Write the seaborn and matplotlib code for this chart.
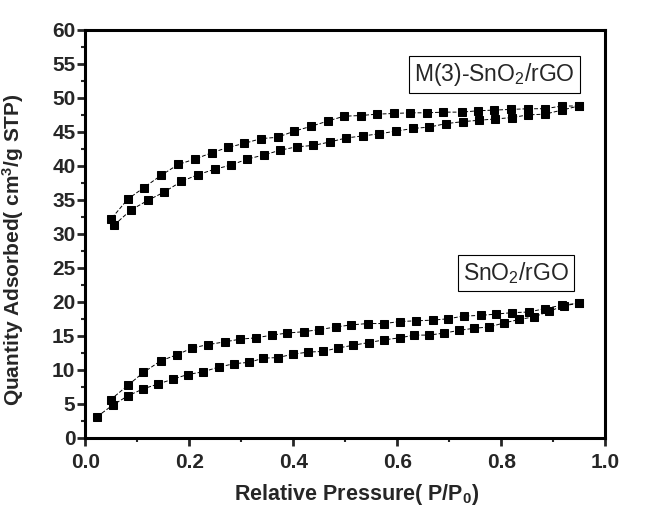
import matplotlib
matplotlib.use("Agg")
import matplotlib.pyplot as plt
import seaborn as sns
import pandas as pd
from matplotlib.ticker import MultipleLocator

# M(3)-SnO2/rGO adsorption branch
m3_ads_x = [0.056, 0.088, 0.120, 0.151, 0.185, 0.217, 0.249, 0.280, 0.312, 0.344,
            0.375, 0.407, 0.439, 0.470, 0.502, 0.534, 0.565, 0.597, 0.631, 0.662,
            0.693, 0.726, 0.757, 0.789, 0.821, 0.852, 0.884, 0.917, 0.949]
m3_ads_y = [31.3, 33.5, 34.9, 36.1, 37.7, 38.7, 39.5, 40.1, 41.0, 41.6,
            42.3, 42.8, 43.0, 43.5, 44.1, 44.4, 44.7, 45.1, 45.5, 45.7,
            46.2, 46.5, 46.7, 46.9, 47.1, 47.5, 47.6, 48.2, 48.8]
# M(3)-SnO2/rGO desorption branch
m3_des_x = [0.949, 0.917, 0.884, 0.852, 0.819, 0.787, 0.755, 0.724, 0.689, 0.658,
            0.625, 0.593, 0.561, 0.530, 0.498, 0.467, 0.434, 0.402, 0.370, 0.338,
            0.306, 0.274, 0.243, 0.211, 0.179, 0.146, 0.113, 0.082, 0.050]
m3_des_y = [48.8, 48.8, 48.4, 48.4, 48.3, 48.2, 48.1, 47.9, 47.9, 47.8,
            47.8, 47.7, 47.6, 47.4, 47.3, 46.6, 45.8, 45.1, 44.2, 44.0,
            43.3, 42.7, 41.9, 41.0, 40.2, 38.6, 36.8, 35.1, 32.2]
# SnO2/rGO adsorption branch
sn_ads_x = [0.023, 0.053, 0.083, 0.112, 0.140, 0.168, 0.197, 0.227, 0.257, 0.287,
            0.316, 0.342, 0.371, 0.400, 0.429, 0.457, 0.486, 0.515, 0.545, 0.575,
            0.605, 0.633, 0.661, 0.691, 0.719, 0.748, 0.777, 0.806, 0.835, 0.864,
            0.892, 0.920, 0.950]
sn_ads_y = [3.1, 4.8, 6.2, 7.2, 7.9, 8.6, 9.3, 9.7, 10.4, 10.9,
            11.1, 11.7, 11.8, 12.3, 12.6, 12.7, 13.2, 13.6, 14.0, 14.4,
            14.7, 15.1, 15.1, 15.4, 15.8, 16.1, 16.3, 16.9, 17.4, 17.8,
            18.6, 19.4, 19.8]
# SnO2/rGO desorption branch
sn_des_x = [0.950, 0.917, 0.884, 0.854, 0.821, 0.791, 0.761, 0.728, 0.698, 0.668,
            0.636, 0.606, 0.575, 0.543, 0.512, 0.482, 0.450, 0.420, 0.389, 0.359,
            0.329, 0.298, 0.268, 0.236, 0.206, 0.176, 0.145, 0.112, 0.082, 0.049]
sn_des_y = [19.8, 19.5, 19.0, 18.5, 18.4, 18.2, 18.0, 17.9, 17.5, 17.3,
            17.2, 17.1, 16.8, 16.8, 16.6, 16.3, 15.9, 15.6, 15.4, 15.1,
            14.7, 14.5, 14.1, 13.7, 13.2, 12.2, 11.3, 9.6, 7.7, 5.6]

x_ticks = [0.0, 0.2, 0.4, 0.6, 0.8, 1.0]
y_ticks = list(range(0, 61, 5))
label_m3 = "M(3)-SnO$_2$/rGO"
label_sn = "SnO$_2$/rGO"

sns.set_style("ticks")
plt.rcParams['font.family'] = ['Liberation Sans', 'DejaVu Sans']
plt.rcParams['mathtext.default'] = 'regular'

fig = plt.figure(figsize=(6.5, 5.15), dpi=100)
ax = fig.add_axes([0.131, 0.150, 0.800, 0.792])

series = [(m3_ads_x, m3_ads_y), (m3_des_x, m3_des_y),
          (sn_ads_x, sn_ads_y), (sn_des_x, sn_des_y)]
for xs, ys in series:
    df = pd.DataFrame({"x": xs, "y": ys})
    sns.lineplot(data=df, x="x", y="y", sort=False, ax=ax, color="black",
                 linestyle=(0, (4, 2)), linewidth=0.7, marker="s",
                 markersize=6.3, markeredgecolor="black", markerfacecolor="black")

ax.set_xlim(0, 1.0)
ax.set_ylim(0, 60)
ax.set_xticks(x_ticks)
ax.set_yticks(y_ticks)
ax.xaxis.set_minor_locator(MultipleLocator(0.1))
ax.yaxis.set_minor_locator(MultipleLocator(2.5))
ax.set_xticklabels([f"{v:.1f}" for v in x_ticks], fontsize=15, fontweight="bold")
ax.set_yticklabels([str(v) for v in y_ticks], fontsize=15, fontweight="bold")
ax.tick_params(axis="x", which="major", direction="out", length=6, width=2, pad=5)
ax.tick_params(axis="y", which="major", direction="out", length=6, width=2, pad=1)
ax.tick_params(axis="both", which="minor", direction="out", length=3, width=1.5)
for sp in ax.spines.values():
    sp.set_linewidth(2.2)
    sp.set_color("black")

ax.set_xlabel("Relative Pressure( P/P$_0$)", fontsize=15.5, fontweight="bold")
ax.set_ylabel("Quantity Adsorbed( cm$^3$/g STP)", fontsize=15, fontweight="bold")
ax.xaxis.set_label_coords(0.522, -0.108)
ax.yaxis.set_label_coords(-0.113, 0.46)

box = dict(boxstyle="square,pad=0.22", facecolor="white", edgecolor="black", linewidth=0.8)
ax.text(0.787, 53.4, label_m3, fontsize=16.5, ha="center", va="center", bbox=box)
ax.text(0.828, 24.3, label_sn, fontsize=16.5, ha="center", va="center", bbox=box)

fig.savefig("out.png", dpi=100)
